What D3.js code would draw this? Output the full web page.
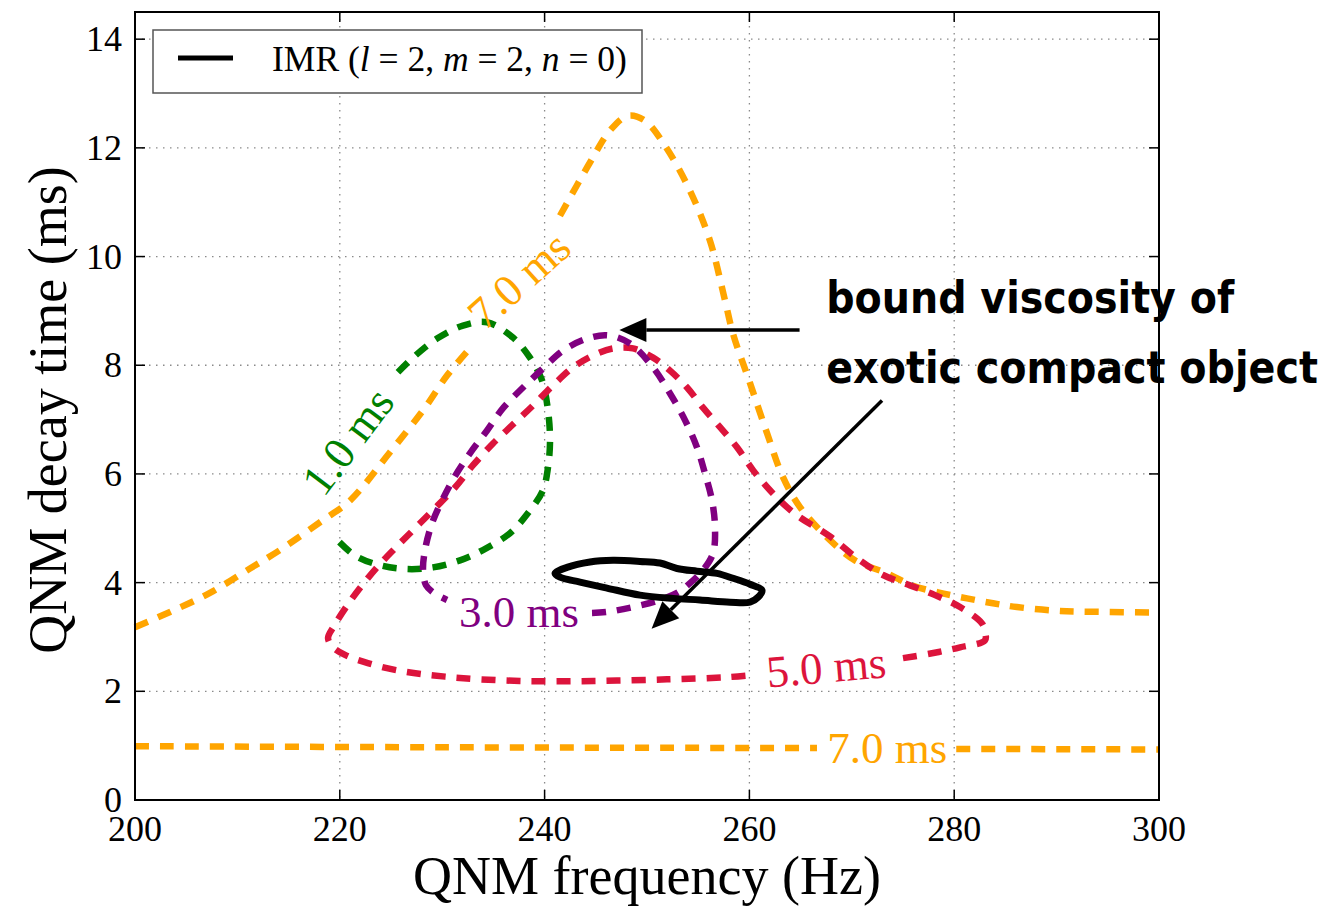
<!DOCTYPE html>
<html>
<head>
<meta charset="utf-8">
<script src="https://cdn.jsdelivr.net/npm/d3@7"></script>
<style>
  html, body { margin: 0; padding: 0; background: #fff; }
  svg { display: block; }
</style>
</head>
<body>
<svg id="chart" width="1332" height="906"></svg>
<script>
// ---------- DATA ----------
const xTicks = [200, 220, 240, 260, 280, 300];
const yTicks = [0, 2, 4, 6, 8, 10, 12, 14];

// 7.0 ms contour (orange), upper branch split by inline label
const orange7UpperA = [[200,3.18],[203.42,3.46],[207.32,3.81],[211.23,4.26],[214.16,4.60],[218.36,5.15],[221.0,5.51],[224.9,6.40],[228.13,7.17],[230.47,7.81],[232.52,8.27]];
const orange7UpperB = [[241.5,10.75],[244.43,11.73],[246.39,12.32],[248.14,12.59],[249.8,12.5],[251.76,12.04],[254.2,11.21],[256.15,10.29],[257.62,9.19],[258.4,8.58],[260.06,7.67],[261.72,6.75],[263.28,5.94],[264.94,5.39],[267.87,4.78],[270.31,4.41],[273.44,4.17],[275.88,3.95],[278.42,3.82],[281.25,3.71],[283.79,3.62],[286.13,3.55],[290.33,3.48],[295,3.46],[300,3.45]];
// 7.0 ms contour (orange), lower branch split by inline label
const orange7LowerA = [[200,0.99],[230,0.97],[266.6,0.955]];
const orange7LowerB = [[280.2,0.94],[300,0.93]];

// 1.0 ms contour (green)
const green1 = [[225.68,7.87],[227.15,8.14],[229.49,8.49],[232.03,8.73],[234.38,8.79],[236.91,8.51],[238.57,8.14],[239.75,7.72],[240.33,7.17],[240.53,6.62],[240.33,6.12],[239.84,5.70],[238.38,5.28],[236.62,4.91],[233.98,4.60],[231.74,4.41],[229.10,4.28],[226.56,4.25],[223.93,4.32],[221.48,4.50],[219.53,4.83]];

// 3.0 ms contour (purple)
const purple3 = [[244.63,3.44],[246.09,3.46],[249.32,3.58],[251.27,3.68],[252.93,3.81],[254.2,3.99],[255.47,4.23],[256.45,4.54],[256.64,5.02],[256.35,5.51],[255.66,6.01],[254.88,6.49],[253.71,6.99],[252.25,7.48],[250.59,7.96],[248.34,8.40],[246.19,8.55],[244.14,8.49],[241.8,8.27],[239.84,7.94],[237.89,7.59],[235.94,7.21],[234.38,6.80],[232.71,6.38],[231.25,5.96],[229.98,5.51],[229.0,5.09],[228.32,4.60],[228.13,4.23],[228.42,3.95],[229.1,3.82],[230.47,3.68]];

// 5.0 ms contour (red)
const red5 = [[275.0,2.61],[277.83,2.70],[280.57,2.81],[283.01,2.94],[283.0,3.10],[282.71,3.25],[280.57,3.55],[278.13,3.77],[275.68,3.95],[273.05,4.14],[270.5,4.45],[267.8,4.86],[264.94,5.20],[263.67,5.39],[262.01,5.70],[260.35,6.07],[258.79,6.49],[257.13,6.86],[255.47,7.22],[253.91,7.59],[252.25,7.90],[250.59,8.14],[248.63,8.31],[246.68,8.31],[244.73,8.18],[242.77,7.96],[240.82,7.63],[238.87,7.26],[236.91,6.91],[234.96,6.56],[233.01,6.16],[231.25,5.75],[229.3,5.37],[227.34,5.00],[225.39,4.63],[223.63,4.28],[221.97,3.90],[220.61,3.55],[219.43,3.20],[218.85,2.98],[219.3,2.82],[220.51,2.67],[222.36,2.54],[225.49,2.39],[230.86,2.26],[237.6,2.19],[244.82,2.19],[251.95,2.22],[257.81,2.26],[260.25,2.30]];

// IMR (l=2, m=2, n=0) contour (black, closed)
const imr = [[241.02,4.17],[242.19,4.28],[244.43,4.38],[246.68,4.41],[249.32,4.39],[251.27,4.36],[252.93,4.26],[254.88,4.21],[256.84,4.17],[258.4,4.08],[260.06,3.97],[261.23,3.86],[260.84,3.73],[260.06,3.64],[258.11,3.64],[255.18,3.68],[252.54,3.71],[249.32,3.77],[246.09,3.90],[243.46,4.01],[241.5,4.10]];

// Contour labels: [text, freq, tau, rotation(deg), colour]
const contourLabels = [
  ["7.0 ms", 237.5, 9.56, -42, "#FFA500"],
  ["1.0 ms", 220.8, 6.60, -53, "#008000"],
  ["3.0 ms", 237.5, 3.46, 0, "#800080"],
  ["5.0 ms", 267.5, 2.44, -5, "#DC143C"],
  ["7.0 ms", 273.45, 0.955, 0, "#FFA500"]
];

// Annotation arrows: [fromFreq, fromTau, toFreq, toTau]
const arrows = [
  [264.9, 8.65, 247.3, 8.65],
  [272.95, 7.35, 250.45, 3.15]
];
const annotationLines = ["bound viscosity of", "exotic compact object"];
const annotationAnchor = [267.5, 8.97];   // freq, tau of first baseline
const annotationLineGap = 1.3;            // in tau units

// ---------- CHART ----------
const svg = d3.select("#chart");
const L = 135, R = 1159, T = 12, B = 800;
const x = d3.scaleLinear().domain([200, 300]).range([L, R]);
const y = d3.scaleLinear().domain([0, 14.5]).range([B, T]);
const serif = "'Liberation Serif', 'Times New Roman', Times, serif";

// grid
const grid = svg.append("g");
grid.selectAll("line.gx").data(xTicks.slice(1, -1)).enter().append("line")
  .attr("x1", d => x(d)).attr("x2", d => x(d)).attr("y1", T).attr("y2", B)
  .attr("stroke", "#8a8a8a").attr("stroke-width", 1.3).attr("stroke-dasharray", "1.5,5.5");
grid.selectAll("line.gy").data(yTicks.slice(1)).enter().append("line")
  .attr("y1", d => y(d)).attr("y2", d => y(d)).attr("x1", L).attr("x2", R)
  .attr("stroke", "#8a8a8a").attr("stroke-width", 1.3).attr("stroke-dasharray", "1.5,5.5");

// contours
const line = d3.line().x(d => x(d[0])).y(d => y(d[1])).curve(d3.curveCatmullRom.alpha(0.5));
const closedLine = d3.line().x(d => x(d[0])).y(d => y(d[1])).curve(d3.curveCatmullRomClosed.alpha(0.5));
const plot = svg.append("g");
const dashed = (data, colour) => plot.append("path").attr("d", line(data))
  .attr("fill", "none").attr("stroke", colour).attr("stroke-width", 6.5)
  .attr("stroke-dasharray", "14,11");

dashed(orange7UpperA, "#FFA500");
dashed(orange7UpperB, "#FFA500");
dashed(orange7LowerA, "#FFA500");
dashed(orange7LowerB, "#FFA500");
dashed(green1, "#008000");
dashed(red5, "#DC143C");
dashed(purple3, "#800080");

plot.append("path").attr("d", closedLine(imr)).attr("fill", "none")
  .attr("stroke", "#000").attr("stroke-width", 7).attr("stroke-linejoin", "round");

// contour labels
plot.selectAll("text.cl").data(contourLabels).enter().append("text")
  .attr("transform", d => `translate(${x(d[1])},${y(d[2])}) rotate(${d[3]})`)
  .attr("text-anchor", "middle").attr("dominant-baseline", "central")
  .attr("font-family", serif).attr("font-size", 45).attr("fill", d => d[4])
  .text(d => d[0]);

// annotation arrows
arrows.forEach(a => {
  const x1 = x(a[0]), y1 = y(a[1]), x2 = x(a[2]), y2 = y(a[3]);
  const ang = Math.atan2(y2 - y1, x2 - x1);
  const hl = 27, hw = 12;
  const bx = x2 - hl * Math.cos(ang), by = y2 - hl * Math.sin(ang);
  svg.append("line").attr("x1", x1).attr("y1", y1).attr("x2", bx).attr("y2", by)
    .attr("stroke", "#000").attr("stroke-width", 3.5);
  const px = -Math.sin(ang) * hw, py = Math.cos(ang) * hw;
  svg.append("path")
    .attr("d", `M${x2},${y2} L${bx + px},${by + py} L${bx - px},${by - py} Z`)
    .attr("fill", "#000");
});

// annotation text (squeezed horizontally to the reference width)
const annLengths = [408, 492];
annotationLines.forEach((t, i) => {
  const ax = x(annotationAnchor[0]);
  const ay = y(annotationAnchor[1] - i * annotationLineGap);
  const g = svg.append("g");
  const txt = g.append("text")
    .attr("x", 0).attr("y", 0)
    .attr("font-family", "'DejaVu Sans', Verdana, sans-serif").attr("font-weight", "bold")
    .attr("font-size", 44).attr("fill", "#000")
    .text(t);
  const w = txt.node().getComputedTextLength();
  const s = annLengths[i] / w;
  g.attr("transform", `translate(${ax},${ay}) scale(${s},1)`);
});

// frame
svg.append("rect").attr("x", L).attr("y", T).attr("width", R - L).attr("height", B - T)
  .attr("fill", "none").attr("stroke", "#000").attr("stroke-width", 2);

// ticks (inward, all sides)
const tk = svg.append("g").attr("stroke", "#000").attr("stroke-width", 1.5);
xTicks.forEach(v => {
  tk.append("line").attr("x1", x(v)).attr("x2", x(v)).attr("y1", B).attr("y2", B - 10);
  tk.append("line").attr("x1", x(v)).attr("x2", x(v)).attr("y1", T).attr("y2", T + 10);
});
yTicks.forEach(v => {
  tk.append("line").attr("y1", y(v)).attr("y2", y(v)).attr("x1", L).attr("x2", L + 10);
  tk.append("line").attr("y1", y(v)).attr("y2", y(v)).attr("x1", R).attr("x2", R - 10);
});

// tick labels
svg.selectAll("text.xt").data(xTicks).enter().append("text")
  .attr("x", d => x(d)).attr("y", 841).attr("text-anchor", "middle")
  .attr("font-family", serif).attr("font-size", 36).text(d => d);
svg.selectAll("text.yt").data(yTicks).enter().append("text")
  .attr("x", 122).attr("y", d => y(d)).attr("text-anchor", "end").attr("dominant-baseline", "central")
  .attr("font-family", serif).attr("font-size", 36).text(d => d);

// axis labels
svg.append("text").attr("x", (L + R) / 2).attr("y", 894).attr("text-anchor", "middle")
  .attr("font-family", serif).attr("font-size", 54).text("QNM frequency (Hz)");
svg.append("text").attr("transform", `translate(66,${(T + B) / 2 + 4}) rotate(-90)`)
  .attr("text-anchor", "middle")
  .attr("font-family", serif).attr("font-size", 54).text("QNM decay time (ms)");

// legend
const lg = svg.append("g");
lg.append("rect").attr("x", 153).attr("y", 30).attr("width", 489).attr("height", 63)
  .attr("fill", "#fff").attr("stroke", "#555").attr("stroke-width", 1.5);
lg.append("line").attr("x1", 178).attr("x2", 233).attr("y1", 58).attr("y2", 58)
  .attr("stroke", "#000").attr("stroke-width", 5);
const lt = lg.append("text").attr("x", 272).attr("y", 71)
  .attr("font-family", serif).attr("font-size", 35.5);
lt.append("tspan").text("IMR (");
lt.append("tspan").attr("font-style", "italic").text("l");
lt.append("tspan").text(" = 2, ");
lt.append("tspan").attr("font-style", "italic").text("m");
lt.append("tspan").text(" = 2, ");
lt.append("tspan").attr("font-style", "italic").text("n");
lt.append("tspan").text(" = 0)");
</script>
</body>
</html>
